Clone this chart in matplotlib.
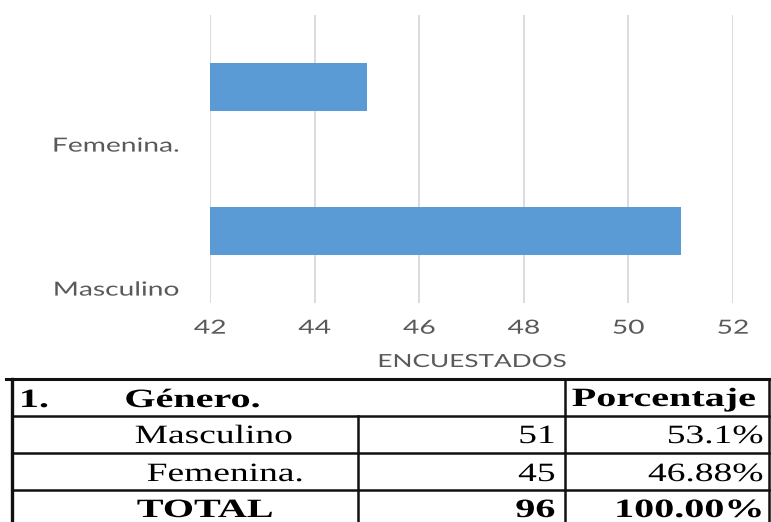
import matplotlib
matplotlib.use("Agg")
import matplotlib.pyplot as plt
from matplotlib.patheffects import AbstractPathEffect
from matplotlib.transforms import Affine2D
from matplotlib.lines import Line2D

# ---------------- data ----------------
categories = ["Masculino", "Femenina."]
values = [51, 45]
x_ticks = [42, 44, 46, 48, 50, 52]
x_label = "ENCUESTADOS"

table_header = ["1.", "Género.", "Porcentaje"]
table_rows = ["Masculino", "Femenina."]
table_counts = ["51", "45"]
table_pcts = ["53.1%", "46.88%"]
total_label = "TOTAL"
total_count = "96"
total_pct = "100.00%"

# ---------------- style helpers ----------------
SX = 1.42       # the source picture is stretched horizontally
SX_SANS = 1.45
SX_BOLD = 1.52


class HStretch(AbstractPathEffect):
    def __init__(self, sx=SX, anchor="center"):
        super().__init__()
        self._sx = sx
        self._anchor = anchor

    def draw_path(self, renderer, gc, tpath, affine, rgbFace=None):
        ext = tpath.get_extents(affine)
        if self._anchor == "left":
            x0 = ext.x0
        elif self._anchor == "right":
            x0 = ext.x1
        else:
            x0 = 0.5 * (ext.x0 + ext.x1)
        aff = affine + Affine2D().translate(-x0, 0).scale(self._sx, 1).translate(x0, 0)
        renderer.draw_path(gc, tpath, aff, rgbFace)


W, H = 771, 522
fig = plt.figure(figsize=(W / 100, H / 100), dpi=100)
fig.patch.set_facecolor("white")

SANS = "Lato"
GREY = "#595959"

# ---------------- bar chart ----------------
ax = fig.add_axes([210 / W, 1 - 303 / H, 523 / W, 288 / H])
ypos = list(range(len(categories)))
ax.barh(ypos, values, height=0.337, color="#5B9BD5", zorder=2)
ax.set_xlim(42, 52)
ax.set_ylim(-0.5, 1.5)
ax.set_xticks(x_ticks)
ax.set_xticklabels([str(t) for t in x_ticks])
label_offset = -0.4
ax.set_yticks([p + label_offset for p in ypos])
ax.set_yticklabels(categories)
ax.grid(axis="x", color="#D9D9D9", linewidth=1.3, zorder=0)
ax.grid(axis="y", visible=False)
ax.set_axisbelow(True)
for s in ax.spines.values():
    s.set_visible(False)
ax.tick_params(axis="both", length=0, colors=GREY)
ax.tick_params(axis="x", pad=12, labelsize=14)
ax.tick_params(axis="y", pad=22, labelsize=14)
for lbl in ax.get_xticklabels():
    lbl.set_fontfamily(SANS)
    lbl.set_path_effects([HStretch(SX_SANS, "center")])
for lbl in ax.get_yticklabels():
    lbl.set_fontfamily(SANS)
    lbl.set_path_effects([HStretch(SX_SANS, "right")])

# ---------------- overlay for x label and table ----------------
ov = fig.add_axes([0, 0, 1, 1], zorder=5)
ov.set_xlim(0, W)
ov.set_ylim(H, 0)
ov.axis("off")
ov.patch.set_alpha(0)

ov.text(472, 362, x_label, ha="center", va="center", fontsize=13, family=SANS,
        color=GREY, path_effects=[HStretch(SX_SANS, "center")])

LC = "#111111"
LW = 1.8
top, r1, r2, r3, bot = 379, 416, 453, 490, 540
xl, xm, xp, xr = 12, 358, 565, 769
for y in (top, r1, r2, r3):
    ov.add_line(Line2D([xl if y != top else 6, xr], [y, y], color=LC, lw=LW if y != top else 2.2))
ov.add_line(Line2D([xl, xl], [top, bot], color=LC, lw=2.4))
ov.add_line(Line2D([xm, xm], [r1, bot], color=LC, lw=LW))
ov.add_line(Line2D([xp, xp], [top, bot], color=LC, lw=LW))
ov.add_line(Line2D([xr, xr], [top, bot], color=LC, lw=LW))

SERIF = "Liberation Serif"
FS = 19


def ttext(x, y, s, ha="left", bold=False):
    ov.text(x, y, s, ha=ha, va="baseline", fontsize=FS, family=SERIF,
            fontweight="bold" if bold else "normal", color="black",
            path_effects=[HStretch(SX_BOLD if bold else SX, ha)])


ttext(20, 407, table_header[0], bold=True)
ttext(125, 407, table_header[1], bold=True)
ttext(572, 406, table_header[2], bold=True)

row_base = [443, 481]
row_left = [135, 147]
for name, cnt, pct, yb, xlft in zip(table_rows, table_counts, table_pcts, row_base, row_left):
    ttext(xlft, yb, name)
    ttext(555, yb, cnt, ha="right")
    ttext(763, yb, pct, ha="right")

ttext(137, 517, total_label, bold=True)
ttext(555, 517, total_count, ha="right", bold=True)
ttext(763, 517, total_pct, ha="right", bold=True)

fig.savefig("out.png", dpi=100)
